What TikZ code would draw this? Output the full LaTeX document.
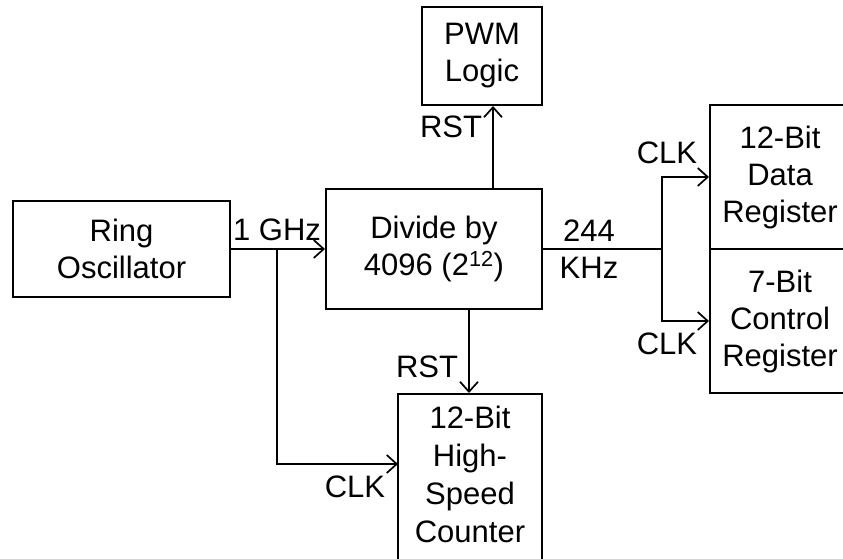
\documentclass[tikz,border=0pt]{standalone}
\usepackage{fontspec}
\setmainfont{Liberation Sans}
\usetikzlibrary{arrows.meta}
\begin{document}
\begin{tikzpicture}[x=1pt,y=-1pt,line width=2pt,
	font={\fontsize{31}{37}\selectfont},
	>={Straight Barb[length=10pt,width=18pt,line width=1.7pt]},
	blk/.style={draw,align=center,inner sep=0pt},
	lbl/.style={inner sep=0pt}]
	%%Khung hình
	\useasboundingbox (0,0) rectangle (843,558);
	\clip (0,0) rectangle (843,558);
	%%Các khối
	\node[blk,minimum width=217,minimum height=96] (osc) at (121.5,249) {Ring\\Oscillator};
	\node[blk,minimum width=216,minimum height=120] (div) at (434,249) {Divide by\\4096 (2\textsuperscript{12})};
	\node[blk,minimum width=120,minimum height=98] (pwm) at (482,56) {PWM\\Logic};
	\node[blk,minimum width=140,minimum height=144] (dat) at (780,177) {12-Bit\\Data\\Register};
	\node[blk,minimum width=140,minimum height=144] (ctl) at (780,321) {7-Bit\\Control\\Register};
	\node[blk,minimum width=144,minimum height=190,anchor=north] (cnt) at (470,393) {};
	\node[lbl,align=center,font={\fontsize{31}{38}\selectfont}] (cnttxt) at (470,474) {12-Bit\\High-\\Speed\\Counter};
	%%Điểm nối
	\coordinate (j1) at (277,249);
	\coordinate (j2) at (662,249);
	\coordinate (rp) at (493,0);
	\coordinate (rc) at (469,0);
	\coordinate (ci) at (398,464);
	%%Các đường nối
	\draw[->] (osc.east) -- (div.west);
	\draw[->] (j1) |- (ci);
	\draw[->] (rp |- div.north) -- (rp |- pwm.south);
	\draw[->] (rc |- div.south) -- (rc |- cnt.north);
	\draw (div.east) -- (j2);
	\draw[->] (j2) |- (dat.west);
	\draw[->] (j2) |- (ctl.west);
	%%Nhãn
	\node[lbl] (fin) at (277,230) {1 GHz};
	\node[lbl] (rst1) at (451,127) {RST};
	\node[lbl] (rst2) at (427,367) {RST};
	\node[lbl,align=center] (fout) at (589,249) {244\\KHz};
	\node[lbl] (clk1) at (667,153) {CLK};
	\node[lbl] (clk2) at (667,344) {CLK};
	\node[lbl] (clk3) at (355,487) {CLK};
\end{tikzpicture}
\end{document}
